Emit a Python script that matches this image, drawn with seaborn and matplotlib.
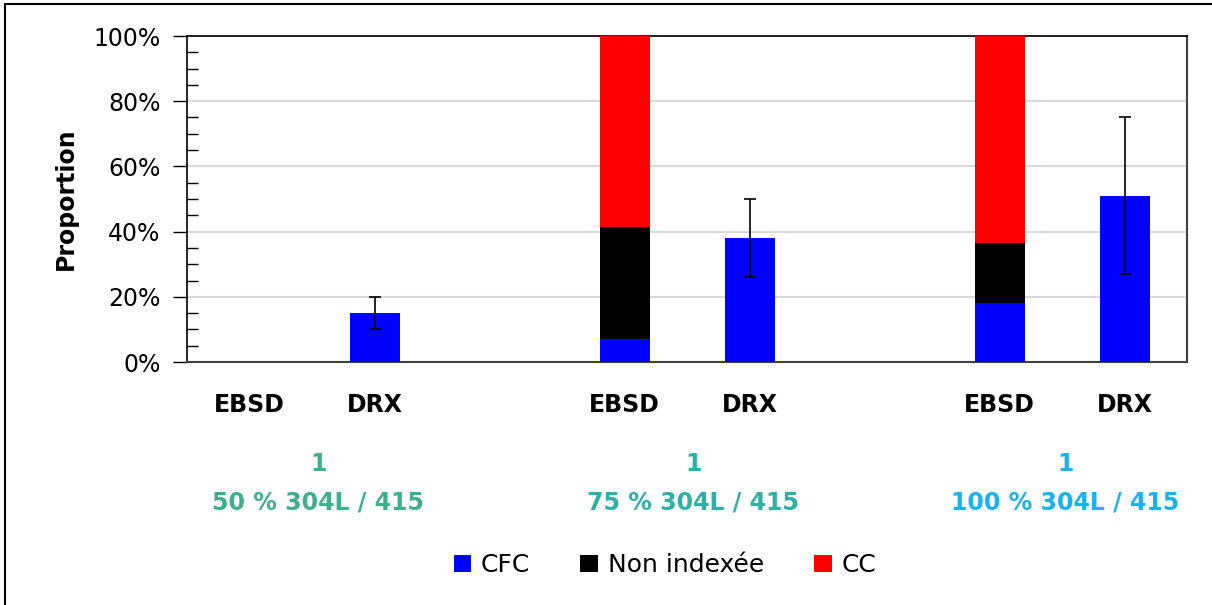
import matplotlib
matplotlib.use("Agg")
import matplotlib.pyplot as plt
from matplotlib.patches import Rectangle
from matplotlib.ticker import MultipleLocator, PercentFormatter
import pandas as pd
import seaborn as sns

# Measurement positions along the x axis (EBSD / DRX for each mixture)
positions = [1, 3, 7, 9, 13, 15]
methods = ["EBSD", "DRX", "EBSD", "DRX", "EBSD", "DRX"]

# Phase proportions (%)
cfc = [0, 15, 7, 38, 18, 51]
non_indexee = [0, 0, 34.5, 0, 18.5, 0]
cc = [0, 0, 58.5, 0, 63.5, 0]
# DRX uncertainty (%)
drx_err = [0, 5, 0, 12, 0, 24]

group_centers = [2.1, 8.1, 14.05]
group_ids = ["1", "1", "1"]
group_labels = ["50 % 304L / 415", "75 % 304L / 415", "100 % 304L / 415"]
group_colors = ["#3DAF8C", "#2FB0A5", "#1AB2EC"]

phase_names = ["CFC", "Non indexée", "CC"]
phase_colors = ["#0000FF", "#000000", "#FF0000"]

df = pd.DataFrame({
    "pos": positions,
    "method": methods,
    "CFC": cfc,
    "Non indexée": non_indexee,
    "CC": cc,
    "err": drx_err,
})
# cumulative tops so that layers drawn back-to-front look stacked
df["top_cfc"] = df["CFC"]
df["top_ni"] = df["CFC"] + df["Non indexée"]
df["top_cc"] = df["top_ni"] + df["CC"]

sns.set_theme(style="white")
plt.rcParams["font.family"] = ["DejaVu Sans"]
plt.rcParams.update({
    "text.color": "black",
    "axes.labelcolor": "black",
    "xtick.color": "black",
    "ytick.color": "black",
})

fig = plt.figure(figsize=(12.12, 6.05), dpi=100)
ax = fig.add_axes([187 / 1212, 1 - 362 / 605, 1000 / 1212, 326 / 605])

for col, color in zip(["top_cc", "top_ni", "top_cfc"], phase_colors[::-1]):
    sns.barplot(data=df, x="pos", y=col, native_scale=True, width=0.4,
                color=color, saturation=1, errorbar=None, ax=ax,
                linewidth=0, zorder=3)

drx = df[df["method"] == "DRX"]
ax.errorbar(drx["pos"], drx["CFC"], yerr=drx["err"], fmt="none",
            ecolor="black", elinewidth=1.2, capsize=4.5, capthick=1.2, zorder=4)

ax.set_xlim(0, 16)
ax.set_ylim(0, 100)
ax.yaxis.set_major_locator(MultipleLocator(20))
ax.yaxis.set_minor_locator(MultipleLocator(5))
ax.yaxis.set_major_formatter(PercentFormatter(decimals=0))
ax.grid(axis="y", which="major", color="#D9D9D9", linewidth=1.5, zorder=0)
ax.set_axisbelow(True)

ax.tick_params(axis="y", which="major", direction="out", length=10, width=1,
               color="black", labelsize=17, labelcolor="black", pad=9, left=True)
ax.tick_params(axis="y", which="minor", direction="in", length=8, width=1,
               color="black", left=True)
ax.set_xticks(positions)
ax.set_xticklabels(methods, fontsize=17, fontweight="bold", color="black")
ax.tick_params(axis="x", length=0, pad=22)

ax.set_xlabel("")
ax.set_ylabel("Proportion", fontsize=17, fontweight="bold", labelpad=11, color="black")

for side in ["left", "top"]:
    ax.spines[side].set_color("black")
    ax.spines[side].set_linewidth(1.2)
for side in ["right", "bottom"]:
    ax.spines[side].set_color("#404040")
    ax.spines[side].set_linewidth(1.5)
for side in ax.spines:
    ax.spines[side].set_visible(True)

trans = matplotlib.transforms.blended_transform_factory(ax.transData, fig.transFigure)
for xc, gid, lab, c in zip(group_centers, group_ids, group_labels, group_colors):
    ax.text(xc, 1 - 464 / 605, gid, transform=trans, ha="center", va="center",
            color=c, fontsize=17, fontweight="bold")
    ax.text(xc, 1 - 503 / 605, lab, transform=trans, ha="center", va="center",
            color=c, fontsize=17, fontweight="bold")

handles = [Rectangle((0, 0), 1, 1, facecolor=c, edgecolor="none") for c in phase_colors]
leg = fig.legend(handles, phase_names, loc="center", bbox_to_anchor=(665 / 1212, 1 - 565 / 605),
                 ncol=3, frameon=False, fontsize=18, handlelength=0.7, handleheight=0.7,
                 handletextpad=0.4, columnspacing=2.0)
for t in leg.get_texts():
    t.set_color("black")

# outer frame of the figure
fig.patches.append(Rectangle((5 / 1212, -0.05), 1.2, (1 - 4 / 605) + 0.05,
                             transform=fig.transFigure, fill=False,
                             edgecolor="black", linewidth=1.5))

fig.savefig("out.png", dpi=100)
